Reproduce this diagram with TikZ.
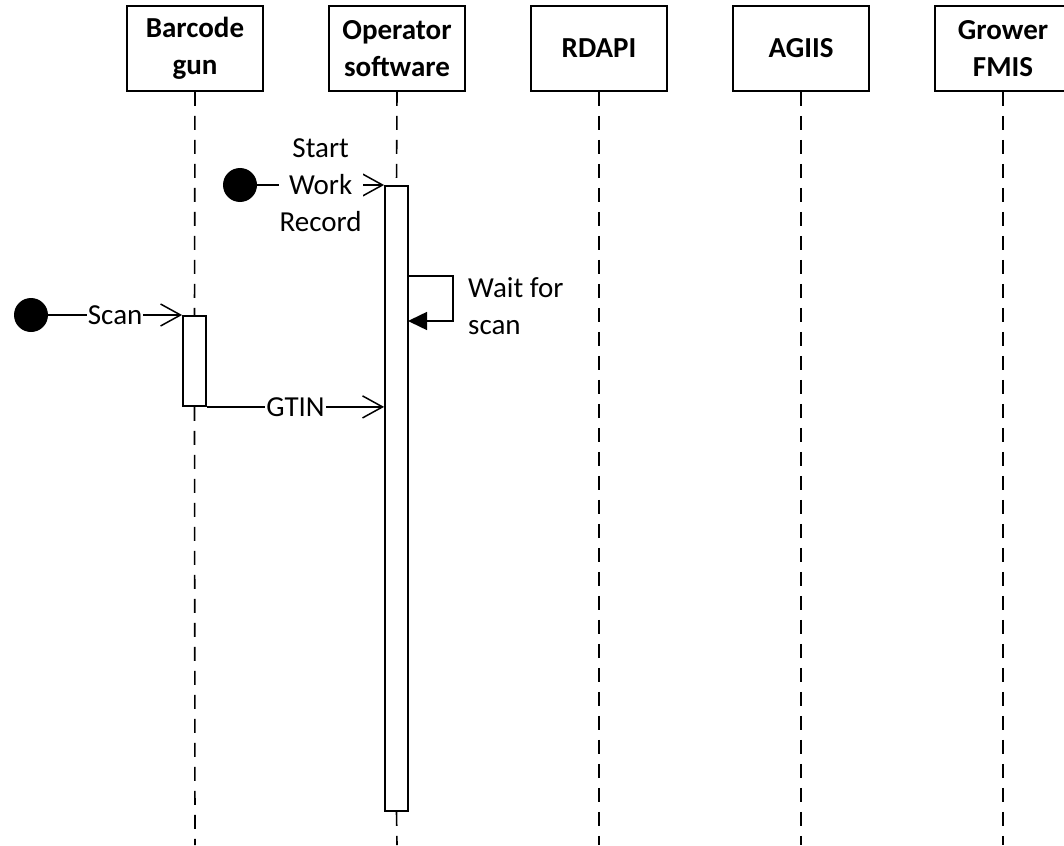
\documentclass[tikz,border=0pt]{standalone}
\usepackage{fontspec}
\setmainfont{Carlito}
\usetikzlibrary{arrows.meta}
\begin{document}
\begin{tikzpicture}[x=1pt,y=-1pt,
  txt/.style={font=\fontsize{29}{37}\selectfont},
  head/.style={draw, line width=1.8pt, minimum width=136pt, minimum height=85pt,
    align=center, inner sep=0pt, font=\fontsize{29}{37}\selectfont\bfseries},
  life/.style={line width=1.6pt, dash pattern=on 14pt off 10pt},
  act/.style={draw, line width=1.8pt, fill=white, minimum width=23pt, inner sep=0pt},
  msg/.style={line width=1.5pt, -{Straight Barb[length=20pt,width=22pt]}},
  selfmsg/.style={line width=1.5pt, -{Triangle[length=19pt,width=18pt]}},
  initial/.style={circle, fill=black, minimum size=34pt, inner sep=0pt},
  lbl/.style={txt, fill=white, inner sep=1pt, align=center}
]
\useasboundingbox (0,0) rectangle (1064,845);

% participants
\node[head] (bg) at (195,48.5)  {Barcode\\gun};
\node[head] (os) at (397,48.5)  {Operator\\software};
\node[head] (rd) at (599,48.5)  {RDAPI};
\node[head] (ag) at (801,48.5)  {AGIIS};
\node[head] (gf) at (1003,48.5) {Grower\\FMIS};

% lifeline ends
\coordinate (bgEnd) at (195,845);
\coordinate (osEnd) at (397,845);
\coordinate (rdEnd) at (599,845);
\coordinate (agEnd) at (801,845);
\coordinate (gfEnd) at (1003,845);

% activation bars
\node[act, minimum height=625pt] (osAct) at (396.5,498.5) {};
\node[act, minimum height=90pt]  (bgAct) at (194.5,361) {};

% lifelines
\draw[life] (bg.south) -- (bgAct.north);
\draw[life] (bgAct.south) -- (bgEnd);
\draw[life] (os.south) -- (osAct.north);
\draw[life] (osAct.south) -- (osEnd);
\draw[life] (rd.south) -- (rdEnd);
\draw[life] (ag.south) -- (agEnd);
\draw[life] (gf.south) -- (gfEnd);

% initial points
\node[initial] (s1) at (240,185) {};
\node[initial] (s2) at (31,315) {};

% messages
\draw[msg] (s1) -- (s1 -| osAct.west) node[lbl, midway] {Start\\Work\\Record};
\draw[msg] (s2) -- (s2 -| bgAct.west) node[lbl, midway] {Scan};
\draw[msg] (bgAct.south east) -- (bgAct.south east -| osAct.west) node[lbl, midway] {GTIN};

% self message
\coordinate (loopTop) at (408,276);
\coordinate (loopBot) at (408,321);
\draw[selfmsg] (loopTop) -- ++(45,0) |- (loopBot);
\node[txt, anchor=west, align=left, inner sep=0pt] (waitLbl) at (468,306) {Wait for\\scan};
\end{tikzpicture}
\end{document}
